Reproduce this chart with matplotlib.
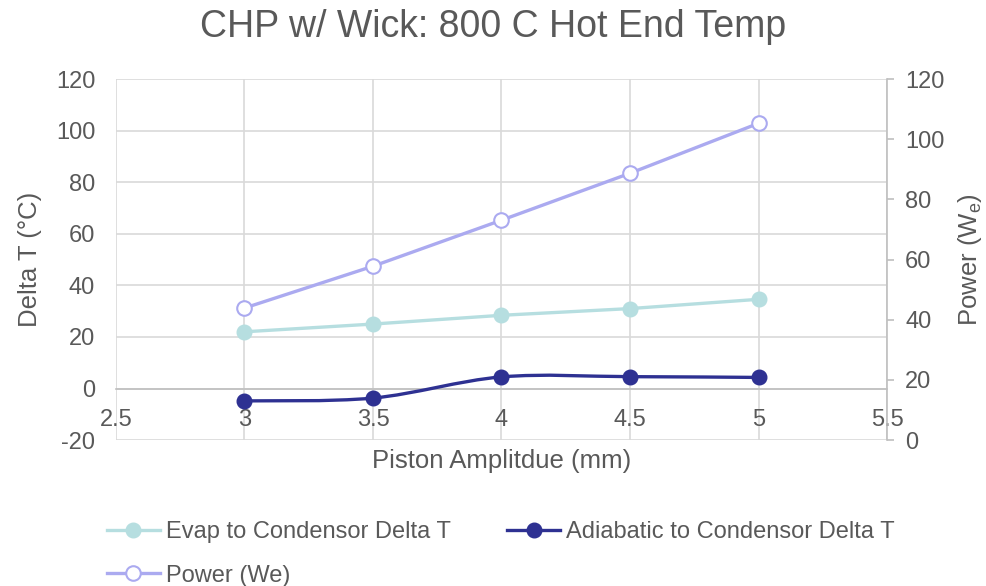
import matplotlib
matplotlib.use('Agg')
import matplotlib.pyplot as plt
from matplotlib.path import Path
from matplotlib.patches import PathPatch
from matplotlib.lines import Line2D

plt.rcParams['font.family'] = ['Liberation Sans', 'DejaVu Sans']
plt.rcParams['axes.unicode_minus'] = False
plt.rcParams['mathtext.default'] = 'regular'

# data
amplitude = [3, 3.5, 4, 4.5, 5]
evap_dT = [22.0, 25.0, 28.4, 31.0, 34.6]
adiab_dT = [-4.8, -3.7, 4.5, 4.6, 4.3]
power = [43.9, 57.8, 73.1, 88.7, 105.3]

x_ticks = [2.5, 3, 3.5, 4, 4.5, 5, 5.5]
left_ticks = [-20, 0, 20, 40, 60, 80, 100, 120]
right_ticks = [0, 20, 40, 60, 80, 100, 120]

c_evap = '#b6dee0'
c_adiab = '#2e3192'
c_power = '#abaaf0'
c_text = '#595959'
c_grid = '#d9d9d9'

fig = plt.figure(figsize=(9.87, 5.86), dpi=100)
ax = fig.add_axes([0.1175, 0.249, 0.7812, 0.616])
ax2 = ax.twinx()

ax.set_xlim(2.5, 5.5)
ax.set_ylim(-20, 120)
ax2.set_ylim(0, 120)
ax.set_xticks(x_ticks)
ax.set_xticklabels([f'{v:g}' for v in x_ticks])
ax.set_yticks(left_ticks)
ax2.set_yticks(right_ticks)

ax.grid(True, color=c_grid, linewidth=1.2)
ax.set_axisbelow(True)
for s in ['top', 'left', 'right']:
    ax.spines[s].set_visible(False)
for s in ['top', 'left', 'bottom']:
    ax2.spines[s].set_visible(False)
ax2.spines['right'].set_color('#bfbfbf')
ax2.spines['right'].set_linewidth(1.2)
ax.spines['bottom'].set_position(('data', 0))
ax.spines['bottom'].set_color('#bfbfbf')
ax.spines['bottom'].set_linewidth(1.2)

ax.tick_params(axis='y', length=0, labelsize=17, labelcolor=c_text, pad=15)
ax.tick_params(axis='x', length=0, labelsize=17, labelcolor=c_text, pad=15)
ax2.tick_params(axis='y', length=5, width=1.2, color='#bfbfbf', direction='out',
                labelsize=17, labelcolor=c_text, pad=8)

ax.set_ylabel('Delta T (°C)', fontsize=18.5, color=c_text, va='center')
ax.yaxis.set_label_coords(-0.1115, 0.5)
ax2.set_ylabel('Power (W$_e$)', fontsize=18.5, color=c_text, va='center')
ax2.yaxis.set_label_coords(1.108, 0.5)
ax.set_xlabel('Piston Amplitdue (mm)', fontsize=18.5, color=c_text)
ax.xaxis.set_label_coords(0.5, -0.058)
ax.xaxis.label.set_va('center')

# evap line
ax.plot(amplitude, evap_dT, '-o', color=c_evap, linewidth=2.4, markersize=10.5, zorder=3)

# adiabatic: smoothed line (Bezier through data points) + markers
pts = list(zip(amplitude, adiab_dT))
verts = [pts[0]]
codes = [Path.MOVETO]
for i in range(len(pts) - 1):
    p0 = pts[i - 1] if i > 0 else pts[i]
    p1 = pts[i]
    p2 = pts[i + 1]
    p3 = pts[i + 2] if i + 2 < len(pts) else pts[i + 1]
    c1 = (p1[0] + (p2[0] - p0[0]) / 6, p1[1] + (p2[1] - p0[1]) / 6)
    c2 = (p2[0] - (p3[0] - p1[0]) / 6, p2[1] - (p3[1] - p1[1]) / 6)
    verts += [c1, c2, p2]
    codes += [Path.CURVE4] * 3
ax.add_patch(PathPatch(Path(verts, codes), facecolor='none', edgecolor=c_adiab,
                       linewidth=2.4, zorder=3))
ax.plot(amplitude, adiab_dT, 'o', color=c_adiab, markersize=10.5, zorder=4)

# power on secondary axis
ax2.plot(amplitude, power, '-o', color=c_power, linewidth=2.4, markersize=10.5,
         markerfacecolor='white', markeredgecolor=c_power, markeredgewidth=1.5, zorder=3)

fig.text(0.5, 1 - 37 / 586, 'CHP w/ Wick: 800 C Hot End Temp', fontsize=27,
         color=c_text, ha='center', va='baseline')

h_evap = Line2D([], [], color=c_evap, linewidth=2.4, marker='o', markersize=10.5)
h_adiab = Line2D([], [], color=c_adiab, linewidth=2.4, marker='o', markersize=10.5)
h_power = Line2D([], [], color=c_power, linewidth=2.4, marker='o', markersize=10.5,
                 markerfacecolor='white', markeredgewidth=1.5)
leg = fig.legend([h_evap, h_power, h_adiab],
                 ['Evap to Condensor Delta T', 'Power (We)', 'Adiabatic to Condensor Delta T'],
                 ncol=2, loc='upper left', bbox_to_anchor=(0.108, 0.111), frameon=False,
                 fontsize=17, handlelength=2.25, handletextpad=0.25, columnspacing=2.4,
                 labelspacing=0.92, borderaxespad=0, borderpad=0)
for t in leg.get_texts():
    t.set_color(c_text)

fig.savefig('out.png', dpi=100)
